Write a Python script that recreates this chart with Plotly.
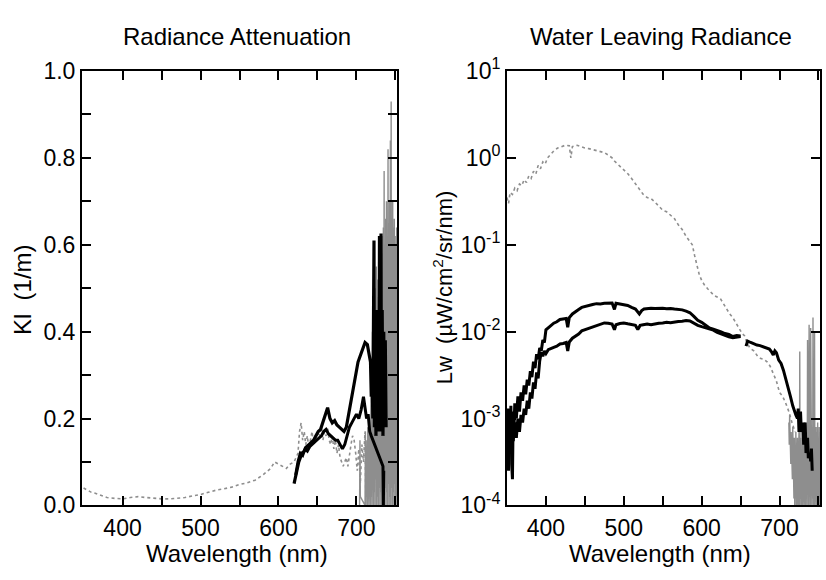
import plotly.graph_objects as go

# ---------------- Left panel: Radiance attenuation Kl (1/m) ----------------
kl_grey_wl = [350, 355, 360, 365, 370, 375, 380, 390, 400, 410, 420, 430, 440, 450, 460, 470,
              480, 490, 500, 510, 520, 530, 540, 550, 560, 570, 580, 590, 595, 600, 605, 610,
              615, 620, 625, 627, 629, 631, 633, 635, 637, 639, 641, 643, 645, 647, 649, 651,
              653, 655, 657, 659, 661, 663, 665, 667, 669, 671, 673, 675, 677, 679, 681, 683,
              685, 687, 689, 691, 693, 695, 697, 699, 701, 703, 705, 707, 709, 711, 712]
kl_grey = [0.040, 0.035, 0.030, 0.028, 0.025, 0.022, 0.018, 0.016, 0.015, 0.018, 0.020, 0.018,
           0.016, 0.015, 0.015, 0.016, 0.018, 0.022, 0.025, 0.030, 0.035, 0.038, 0.042, 0.048,
           0.052, 0.058, 0.070, 0.085, 0.100, 0.095, 0.090, 0.085, 0.095, 0.100, 0.120, 0.170,
           0.190, 0.150, 0.170, 0.140, 0.160, 0.130, 0.150, 0.170, 0.140, 0.160, 0.150, 0.170,
           0.160, 0.180, 0.150, 0.170, 0.160, 0.180, 0.150, 0.140, 0.160, 0.130, 0.150, 0.120,
           0.140, 0.110, 0.100, 0.090, 0.100, 0.110, 0.090, 0.120, 0.140, 0.160, 0.150, 0.120,
           0.080, 0.130, 0.050, 0.140, 0.100, 0.170, 0.020]

kl_noise_wl = [704, 704.5, 705, 711, 711.5, 712, 712.5, 713, 713.5, 714, 714.5, 715, 715.5, 716,
               716.5, 717, 717.5, 718, 718.5, 719, 719.5, 720, 720.5, 721, 721.5, 722, 722.5, 723,
               723.5, 724, 724.5, 725, 725.5, 726, 726.5, 727, 727.5, 728, 728.5, 729, 729.5, 730,
               730.5, 731, 731.5, 732, 732.5, 733, 733.5, 734, 734.5, 735, 735.5, 736, 736.5, 737,
               737.5, 738, 738.5, 739, 739.5, 740, 740.5, 741, 741.5, 742, 742.5, 743, 743.5, 744,
               744.5, 745, 745.5, 746, 746.5, 747, 747.5, 748, 748.5, 749, 749.5, 750, 750.5, 751,
               751.5, 752]
kl_noise = [0.00, 0.15, 0.02, 0.00, 0.17, 0.00, 0.15, 0.02, 0.12, 0.00, 0.18, 0.03, 0.10, 0.00,
            0.20, 0.04, 0.16, 0.00, 0.25, 0.02, 0.30, 0.00, 0.40, 0.05, 0.35, 0.00, 0.45, 0.03,
            0.50, 0.00, 0.42, 0.06, 0.55, 0.00, 0.48, 0.02, 0.52, 0.00, 0.58, 0.04, 0.50, 0.00,
            0.56, 0.03, 0.60, 0.00, 0.62, 0.05, 0.58, 0.00, 0.64, 0.02, 0.77, 0.00, 0.60, 0.04,
            0.66, 0.00, 0.70, 0.03, 0.62, 0.00, 0.82, 0.05, 0.65, 0.00, 0.70, 0.02, 0.84, 0.00,
            0.93, 0.04, 0.66, 0.00, 0.70, 0.03, 0.64, 0.00, 0.66, 0.05, 0.62, 0.00, 0.60, 0.02,
            0.64, 0.00]

kl_black1_wl = [620, 622, 624, 626, 628, 630, 633, 636, 639, 642, 645, 648, 651, 654, 657, 660,
                663, 666, 669, 672, 675, 678, 681, 684, 687, 690, 693, 696, 699, 702, 705, 708,
                711, 714, 716, 718, 719, 720, 721, 722, 722.5, 723, 724, 725, 726, 727, 728, 729,
                729.5, 730, 731, 731.5, 732, 733, 734, 735, 736, 737, 738]
kl_black1 = [0.050, 0.070, 0.090, 0.100, 0.110, 0.120, 0.125, 0.135, 0.140, 0.145, 0.150, 0.160,
             0.170, 0.175, 0.190, 0.210, 0.225, 0.200, 0.190, 0.195, 0.185, 0.180, 0.175, 0.170,
             0.180, 0.210, 0.250, 0.280, 0.310, 0.330, 0.345, 0.360, 0.375, 0.370, 0.350, 0.330,
             0.250, 0.310, 0.200, 0.600, 0.610, 0.180, 0.420, 0.160, 0.450, 0.200, 0.400, 0.170,
             0.620, 0.180, 0.400, 0.626, 0.170, 0.450, 0.160, 0.400, 0.200, 0.380, 0.180]

kl_black2_wl = [622, 625, 628, 631, 634, 637, 640, 643, 646, 649, 652, 655, 658, 661, 664, 667,
                670, 673, 676, 679, 682, 685, 688, 691, 694, 697, 700, 703, 706, 709, 711, 713,
                715, 717, 719, 734, 734.5, 735]
kl_black2 = [0.070, 0.100, 0.120, 0.115, 0.130, 0.125, 0.135, 0.140, 0.145, 0.150, 0.155, 0.160,
             0.170, 0.175, 0.165, 0.160, 0.155, 0.150, 0.150, 0.140, 0.130, 0.140, 0.160, 0.180,
             0.190, 0.200, 0.210, 0.200, 0.220, 0.250, 0.220, 0.200, 0.210, 0.170, 0.160, 0.090,
             0.000, 0.080]

# ---------------- Right panel: Water leaving radiance Lw ----------------
lw_grey_wl = [350, 352, 354, 357, 360, 363, 366, 369, 372, 375, 378, 381, 384, 387, 390, 393, 396,
              399, 402, 406, 410, 415, 420, 425, 430, 432, 434, 440, 445, 450, 455, 460, 465, 470,
              475, 480, 485, 488, 492, 496, 500, 505, 510, 515, 520, 525, 530, 535, 540, 545, 550,
              555, 560, 565, 570, 575, 580, 585, 588, 591, 594, 597, 600, 604, 608, 612, 616, 620,
              624, 628, 632, 636, 640, 644, 648, 652, 655, 658, 662, 667, 672, 676, 680, 684, 688,
              692, 696, 700, 704, 708, 712, 716, 720]
lw_grey = [0.35, 0.30, 0.40, 0.38, 0.45, 0.42, 0.50, 0.48, 0.56, 0.52, 0.62, 0.58, 0.70, 0.65, 0.82,
           0.75, 0.90, 0.85, 1.00, 1.10, 1.20, 1.30, 1.35, 1.40, 1.38, 1.00, 1.35, 1.40, 1.35, 1.30,
           1.28, 1.25, 1.22, 1.20, 1.15, 1.08, 1.00, 0.92, 0.85, 0.78, 0.72, 0.66, 0.58, 0.50, 0.43,
           0.38, 0.35, 0.34, 0.31, 0.28, 0.25, 0.24, 0.22, 0.20, 0.17, 0.15, 0.125, 0.11, 0.10,
           0.075, 0.056, 0.045, 0.039, 0.034, 0.031, 0.028, 0.026, 0.025, 0.024, 0.021, 0.018,
           0.016, 0.0145, 0.0125, 0.011, 0.0095, 0.009, 0.0075, 0.0065, 0.006, 0.0052, 0.0049,
           0.0048, 0.0045, 0.004, 0.0033, 0.0027, 0.002, 0.0018, 0.0015, 0.0012, 0.0009, 0.0007]

lw_noise_wl = [712, 712.5, 713, 713.5, 714, 714.5, 715, 715.5, 716, 716.5, 717, 717.5, 718, 718.5,
               719, 719.5, 720, 720.5, 721, 721.5, 722, 722.5, 723, 723.5, 724, 724.5, 725, 725.5,
               726, 726.5, 727, 727.5, 728, 728.5, 729, 729.5, 730, 730.5, 731, 731.5, 732, 732.5,
               733, 733.5, 734, 734.5, 735, 735.5, 736, 736.5, 737, 737.5, 738, 738.5, 739, 739.5,
               740, 740.5, 741, 741.5, 742, 742.5, 743, 743.5, 744, 744.5, 745, 745.5, 746, 746.5,
               747, 747.5, 748, 748.5, 749, 749.5, 750, 750.5, 751, 751.5, 752]
lw_noise = [9e-4, 5e-4, 1.1e-3, 4e-4, 8e-4, 3e-4, 7e-4, 2.5e-4, 6e-4, 2e-4, 8e-4, 1.5e-4, 5e-4,
            1.2e-4, 6e-4, 1e-4, 5e-4, 1.2e-4, 7e-4, 9e-5, 4e-4, 1.1e-4, 6e-4, 8e-5, 5e-4, 1e-4,
            7e-4, 9e-5, 5.9e-3, 1.2e-4, 6e-4, 8e-5, 4e-4, 1e-4, 7e-4, 9e-5, 5e-4, 1.1e-4, 6e-4,
            8e-5, 8e-4, 1e-4, 5e-4, 9e-5, 6e-4, 1.2e-4, 7e-4, 8e-5, 8e-3, 1e-4, 6e-4, 9e-5, 1.2e-2,
            1.1e-4, 7e-4, 8e-5, 1.1e-2, 1e-4, 6e-4, 9e-5, 8e-4, 1.2e-4, 1.45e-2, 8e-5, 7e-4, 1e-4,
            1e-2, 9e-5, 6e-4, 1.1e-4, 8e-4, 8e-5, 7e-4, 1e-4, 9e-4, 9e-5, 6e-4, 1.2e-4, 8e-4, 1e-4,
            7e-4]

lw_black1_wl = [350, 351, 352, 353, 354, 355, 356, 357, 358, 359, 360, 362, 364, 366, 368, 370,
                372, 374, 376, 378, 380, 382, 384, 386, 388, 390, 392, 394, 396, 398, 400, 403,
                406, 410, 414, 418, 422, 426, 428, 430, 434, 438, 442, 446, 450, 455, 460, 465,
                470, 475, 480, 485, 488, 490, 495, 500, 505, 510, 515, 520, 523, 526, 530, 535,
                540, 545, 550, 555, 560, 565, 570, 575, 580, 585, 590, 595, 600, 605, 610, 615,
                620, 625, 630, 635, 640, 645, 650, 653, 657, 659, 663, 667, 671, 675, 679, 683,
                687, 690, 692, 694, 696, 699, 702, 705, 708, 711, 714, 717, 719, 721, 723, 724,
                725, 727, 728, 730, 731, 733, 734, 736, 737, 739, 740, 741, 742]
lw_black1 = [6e-4, 1.3e-3, 4e-4, 1.1e-3, 5e-4, 1.4e-3, 3e-4, 2e-4, 1.2e-3, 8e-4, 1.5e-3, 1.0e-3,
             1.8e-3, 1.2e-3, 2.0e-3, 1.6e-3, 2.4e-3, 1.9e-3, 2.8e-3, 2.4e-3, 3.5e-3, 3.0e-3,
             4.5e-3, 3.8e-3, 5.5e-3, 4.8e-3, 6.5e-3, 6.0e-3, 8.0e-3, 7.5e-3, 0.0105, 0.011,
             0.0118, 0.0125, 0.013, 0.0138, 0.014, 0.0142, 0.0112, 0.0145, 0.016, 0.0168, 0.018,
             0.019, 0.0195, 0.020, 0.0205, 0.021, 0.0208, 0.0212, 0.0215, 0.0214, 0.018, 0.0212,
             0.0208, 0.0205, 0.020, 0.019, 0.0182, 0.016, 0.0175, 0.0182, 0.0185, 0.0186, 0.0185,
             0.0187, 0.0186, 0.0184, 0.0185, 0.0182, 0.018, 0.0178, 0.0172, 0.0165, 0.015, 0.0135,
             0.0128, 0.012, 0.011, 0.0107, 0.0102, 0.0099, 0.0095, 0.0093, 0.0088, 0.009, 0.0089,
             None, 0.0068, 0.0078, 0.0075, 0.0072, 0.007, 0.0069, 0.0067, 0.0066, 0.0063, 0.0058,
             0.0054, 0.006, 0.0057, 0.0047, 0.0043, 0.0036, 0.0029, 0.0023, 0.0018, 0.0014,
             0.0012, 0.0011, 0.001, 0.0013, 0.0007, 0.0012, 0.0007, 0.0009, 0.0005, 0.0009,
             0.0004, 0.0006, 0.00035, 0.0004, 0.00032, 0.00045, 0.00025]

lw_black2_wl = [350, 351, 352, 353, 354, 356, 358, 360, 362, 364, 366, 368, 370, 372, 374, 376,
                378, 380, 382, 384, 386, 388, 390, 392, 394, 396, 398, 400, 403, 406, 410, 414,
                418, 422, 426, 428, 430, 434, 438, 442, 446, 450, 455, 460, 465, 470, 475, 480,
                485, 488, 490, 495, 500, 505, 510, 515, 518, 521, 525, 530, 535, 540, 545, 550,
                555, 560, 565, 570, 575, 580, 585, 590, 595, 600, 605, 610, 615, 620, 625, 630,
                635, 640, 645, 650]
lw_black2 = [3e-4, 7e-4, 2.5e-4, 6e-4, 4e-4, 8e-4, 5.5e-4, 9e-4, 6e-4, 1.0e-3, 7e-4, 1.1e-3,
             9e-4, 1.3e-3, 1.1e-3, 1.6e-3, 1.3e-3, 2.0e-3, 1.7e-3, 2.6e-3, 2.2e-3, 3.4e-3, 2.9e-3,
             4.6e-3, 5.8e-3, 5.2e-3, 6.0e-3, 5.6e-3, 6.2e-3, 6.4e-3, 6.6e-3, 6.8e-3, 7.2e-3,
             7.3e-3, 7.5e-3, 6.0e-3, 7.6e-3, 8.4e-3, 8.8e-3, 9.4e-3, 0.0102, 0.0105, 0.011, 0.0115,
             0.0118, 0.0122, 0.0126, 0.0125, 0.0122, 0.0105, 0.012, 0.0124, 0.0126, 0.0123, 0.012,
             0.0118, 0.0106, 0.0118, 0.012, 0.0122, 0.012, 0.0123, 0.0125, 0.0126, 0.0128, 0.0127,
             0.013, 0.0131, 0.0132, 0.0134, 0.0133, 0.0125, 0.0118, 0.0114, 0.011, 0.0107, 0.0104,
             0.0098, 0.0094, 0.009, 0.0087, 0.0085, 0.0086, 0.0088]

# axis tick values / labels
x_tickvals = [400, 500, 600, 700]
x_ticktext = ["400", "500", "600", "700"]
x_minorvals = [450, 550, 650, 750]
kl_tickvals = [0.0, 0.2, 0.4, 0.6, 0.8, 1.0]
kl_ticktext = ["0.0", "0.2", "0.4", "0.6", "0.8", "1.0"]
kl_minorvals = [0.1, 0.3, 0.5, 0.7, 0.9]
lw_tickvals = [1e-4, 1e-3, 1e-2, 1e-1, 1e0, 1e1]
lw_ticktext = ["10<sup>-4</sup>", "10<sup>-3</sup>", "10<sup>-2</sup>", "10<sup>-1</sup>",
               "10<sup>0</sup>", "10<sup>1</sup>"]

GREY = "#8e8e8e"
BLACK = "#000000"
FONT = "Liberation Sans, Arial, sans-serif"

fig = go.Figure()

# left panel
fig.add_trace(go.Scatter(x=kl_grey_wl, y=kl_grey, mode="lines",
                         line=dict(color=GREY, width=1.6, dash="dot"), xaxis="x", yaxis="y"))
fig.add_trace(go.Scatter(x=kl_noise_wl, y=kl_noise, mode="lines",
                         line=dict(color=GREY, width=1.4), xaxis="x", yaxis="y"))
fig.add_trace(go.Scatter(x=kl_black2_wl, y=kl_black2, mode="lines",
                         line=dict(color=BLACK, width=3), xaxis="x", yaxis="y"))
fig.add_trace(go.Scatter(x=kl_black1_wl, y=kl_black1, mode="lines",
                         line=dict(color=BLACK, width=3.2), xaxis="x", yaxis="y"))

# right panel
fig.add_trace(go.Scatter(x=lw_grey_wl, y=lw_grey, mode="lines",
                         line=dict(color=GREY, width=1.6, dash="dot"), xaxis="x2", yaxis="y2"))
fig.add_trace(go.Scatter(x=lw_noise_wl, y=lw_noise, mode="lines",
                         line=dict(color=GREY, width=1.4), xaxis="x2", yaxis="y2"))
fig.add_trace(go.Scatter(x=lw_black2_wl, y=lw_black2, mode="lines",
                         line=dict(color=BLACK, width=3), xaxis="x2", yaxis="y2"))
fig.add_trace(go.Scatter(x=lw_black1_wl, y=lw_black1, mode="lines", connectgaps=False,
                         line=dict(color=BLACK, width=3), xaxis="x2", yaxis="y2"))

W, H = 826, 580
ydom = [1 - 515 / H, 1 - 57 / H]
axis_common = dict(showline=True, linecolor=BLACK, linewidth=2, mirror="ticks", ticks="inside",
                   ticklen=9, tickwidth=2, tickcolor=BLACK, showgrid=False, zeroline=False,
                   tickfont=dict(family=FONT, size=23, color=BLACK))

def minor(vals):
    return dict(tickmode="array", tickvals=vals, ticks="inside", ticklen=9, tickwidth=2,
                tickcolor=BLACK, showgrid=False)

fig.update_layout(
    width=W, height=H, margin=dict(l=0, r=0, t=0, b=0),
    paper_bgcolor="white", plot_bgcolor="white", showlegend=False,
    xaxis=dict(domain=[82 / W, 397 / W], range=[348, 752], tickvals=x_tickvals,
               ticktext=x_ticktext, minor=minor(x_minorvals), anchor="y",
               ticklabelstandoff=1, **axis_common),
    yaxis=dict(domain=ydom, range=[0, 1.0], tickvals=kl_tickvals, ticktext=kl_ticktext,
               minor=minor(kl_minorvals), anchor="x", **axis_common),
    xaxis2=dict(domain=[507 / W, 820 / W], range=[350, 752], tickvals=x_tickvals,
                ticktext=x_ticktext, minor=minor(x_minorvals), anchor="y2",
                ticklabelstandoff=1, **axis_common),
    yaxis2=dict(domain=ydom, type="log", range=[-4, 1], tickvals=lw_tickvals,
                ticktext=lw_ticktext, anchor="x2", **axis_common),
)

def ann(text, x, y, angle=0, size=24):
    fig.add_annotation(text=text, x=x / W, y=1 - y / H, xref="paper", yref="paper",
                       showarrow=False, textangle=angle, xanchor="center", yanchor="middle",
                       font=dict(family=FONT, size=size, color=BLACK))

ann("Radiance Attenuation", 237, 21)
ann("Water Leaving Radiance", 661, 21)
ann("Wavelength (nm)", 237, 566)
ann("Wavelength (nm)", 660, 566)
ann("Kl\u00a0\u00a0(1/m)", 22, 288, angle=-90)
ann("Lw\u00a0\u00a0(\u00b5W/cm<sup>2</sup>/sr/nm)", 443, 285, angle=-90, size=22)

fig.write_html("out.html")
